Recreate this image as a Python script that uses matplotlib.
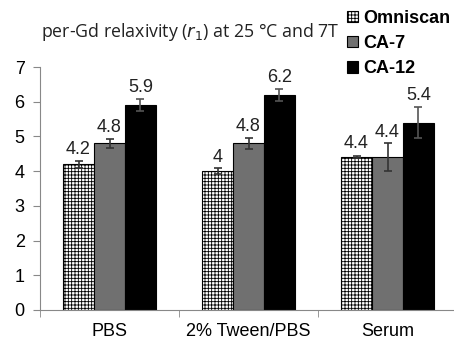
import numpy as np
import matplotlib
matplotlib.use("Agg")
import matplotlib.pyplot as plt

# data
media = ["PBS", "2% Tween/PBS", "Serum"]
agents = ["Omniscan", "CA-7", "CA-12"]
omniscan = [4.2, 4.0, 4.4]
ca7 = [4.8, 4.8, 4.4]
ca12 = [5.9, 6.2, 5.4]
omniscan_err = [0.1, 0.08, 0.03]
ca7_err = [0.14, 0.15, 0.4]
ca12_err = [0.18, 0.17, 0.45]
value_labels = [["4.2", "4", "4.4"], ["4.8", "4.8", "4.4"], ["5.9", "6.2", "5.4"]]

plt.rcParams['font.family'] = ['Liberation Sans', 'DejaVu Sans']
plt.rcParams['hatch.linewidth'] = 0.6

fig = plt.figure(figsize=(4.54, 3.4), dpi=100)
ax = fig.add_axes([40/454, 30/340, 417/454, 243/340])

x = np.arange(len(media))
w = 0.223
series = [omniscan, ca7, ca12]
errs = [omniscan_err, ca7_err, ca12_err]
faces = ["white", "#707070", "black"]
hatches = ["+++++", None, None]

bars = []
for i in range(3):
    b = ax.bar(x + (i - 1) * w, series[i], w, color=faces[i], edgecolor="black",
               linewidth=0.8, hatch=hatches[i], label=agents[i], zorder=2)
    bars.append(b)
    ax.errorbar(x + (i - 1) * w, series[i], yerr=errs[i], fmt="none",
                ecolor="#333333" if i < 2 else "#555555", elinewidth=1.2,
                capsize=3, capthick=1.2, zorder=3)
    for j in range(3):
        ytop = series[i][j] + max(errs[i][j], 0.08)
        ax.text(x[j] + (i - 1) * w, ytop + 0.08, value_labels[i][j],
                ha="center", va="bottom", fontsize=13, color="#222222")

ax.set_ylim(0, 7)
ax.set_xlim(-0.5, 2.5)
ax.set_yticks(range(8))
ax.set_xticks(x)
ax.set_xticklabels(media, fontsize=13)
ax.set_xticks([-0.5, 0.5, 1.5, 2.5], minor=True)
ax.tick_params(axis="x", which="major", length=0, pad=9)
ax.tick_params(axis="x", which="minor", length=5, color="#888888")
ax.tick_params(axis="y", labelsize=13, length=5, color="#888888", pad=6)
for s in ["top", "right"]:
    ax.spines[s].set_visible(False)
for s in ["left", "bottom"]:
    ax.spines[s].set_color("#888888")

fig.text(190/454, 1 - 32/340, r"per-Gd relaxivity ($r_1$) at 25 °C and 7T",
         ha="center", va="center", fontsize=12.8, family=["Open Sans", "DejaVu Sans"],
         color="#222222")

leg = fig.legend(handles=bars, labels=agents, loc="upper left",
                 bbox_to_anchor=(347/454, 1 - 10/340), frameon=False,
                 prop={"weight": "bold", "size": 13}, handlelength=0.6,
                 handleheight=0.6, handletextpad=0.3, labelspacing=0.45,
                 borderaxespad=0, borderpad=0)

fig.savefig("out.png", dpi=100)
